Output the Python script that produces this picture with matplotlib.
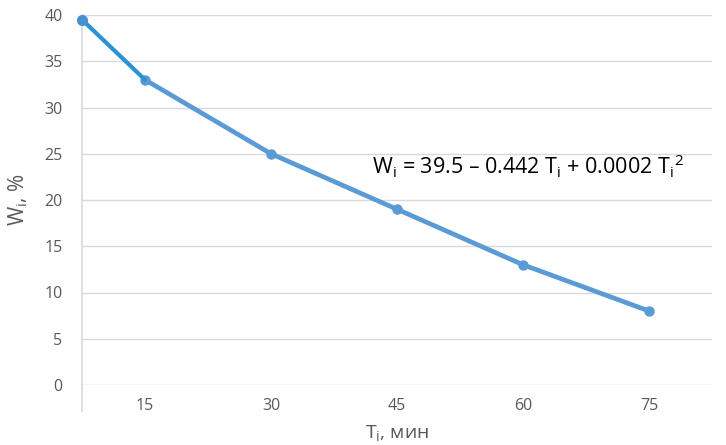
import matplotlib.pyplot as plt

plt.rcParams['font.family'] = ['Open Sans', 'DejaVu Sans']
plt.rcParams['mathtext.default'] = 'regular'

# drying time, min (first point sits on the axis edge)
t_min = [7.5, 15, 30, 45, 60, 75]
moisture = [39.5, 33.0, 25.0, 19.0, 13.0, 8.0]
x_ticks = [15, 30, 45, 60, 75]
y_ticks = [0, 5, 10, 15, 20, 25, 30, 35, 40]

grey = '#595959'
blue = '#5b9bd5'

fig = plt.figure(figsize=(7.26, 4.45), dpi=100)
ax = fig.add_axes([82 / 726, 60 / 445, 630 / 726, 370 / 445])

ax.plot(t_min[1:], moisture[1:], color=blue, lw=3.4, marker='o', ms=6.5,
        solid_capstyle='round', clip_on=False, zorder=3)
# first segment was drawn in a brighter blue
ax.plot(t_min[:2], moisture[:2], color='#2a93d5', lw=3.0,
        solid_capstyle='round', clip_on=False, zorder=4)
ax.plot(t_min[:1], moisture[:1], 'o', color='#4a90cf', ms=7, clip_on=False, zorder=5)

ax.set_xlim(7.5, 82.5)
ax.set_ylim(0, 40)
ax.set_xticks(x_ticks)
ax.set_yticks(y_ticks)
ax.tick_params(length=0, labelsize=11.5, colors=grey)
ax.tick_params(axis='x', pad=9)
ax.tick_params(axis='y', pad=14)

ax.grid(axis='y', color='#d9d9d9', lw=1)
ax.set_axisbelow(True)
for s in ax.spines.values():
    s.set_visible(False)
ax.plot([0, 0], [-0.07, 1.0], transform=ax.transAxes, color='#d9d9d9',
        lw=1.2, clip_on=False, zorder=1)

ax.set_xlabel('T$_{i}$, мин', fontsize=14, color=grey, labelpad=7)
ax.set_ylabel('W$_{i}$, %', fontsize=15, color=grey, labelpad=10)

ax.text(0.46, 0.59, 'W$_{i}$ = 39.5 – 0.442 T$_{i}$ + 0.0002 T$_{i}$$^{2}$',
        transform=ax.transAxes, fontsize=15.5, color='black', va='center', ha='left')

fig.savefig('out.png', dpi=100)
